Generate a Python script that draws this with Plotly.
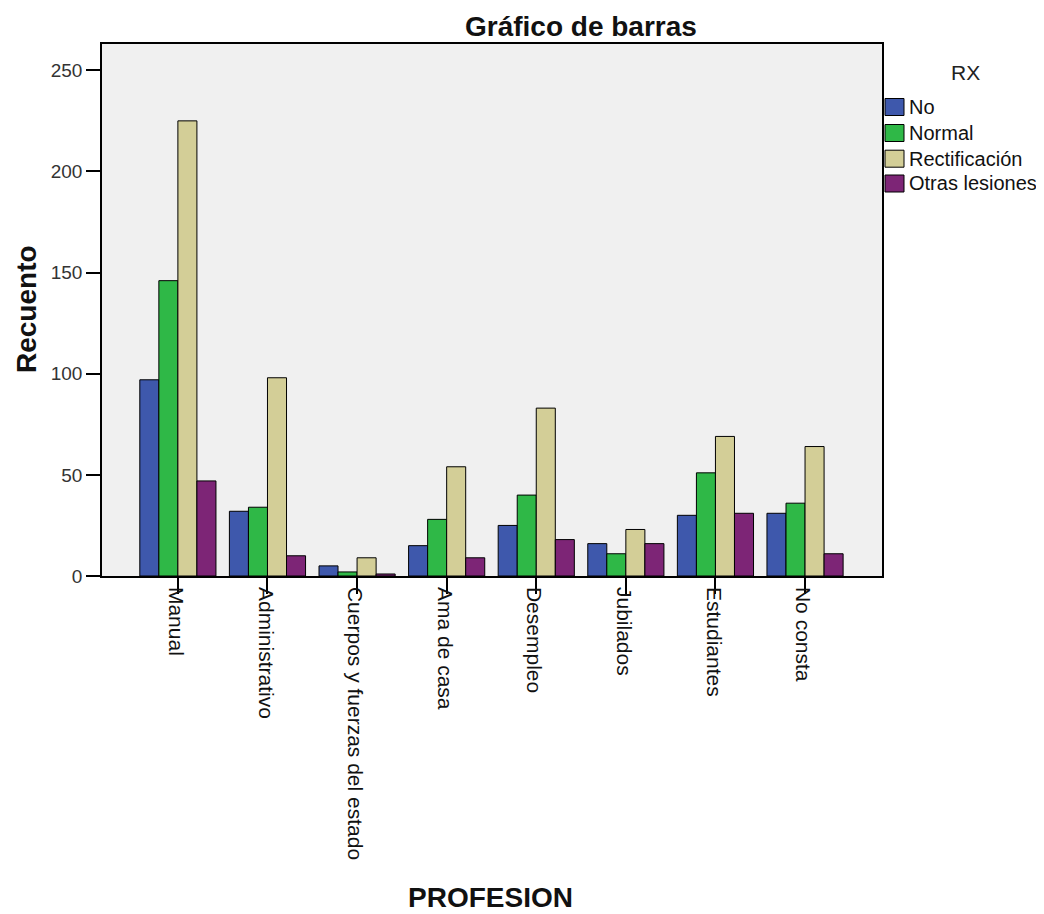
import plotly.graph_objects as go

categories = ["Manual", "Administrativo", "Cuerpos y fuerzas del estado", "Ama de casa",
              "Desempleo", "Jubilados", "Estudiantes", "No consta"]
series_names = ["No", "Normal", "Rectificación", "Otras lesiones"]
no_vals = [97, 32, 5, 15, 25, 16, 30, 31]
normal_vals = [146, 34, 2, 28, 40, 11, 51, 36]
rectif_vals = [225, 98, 9, 54, 83, 23, 69, 64]
otras_vals = [47, 10, 1, 9, 18, 16, 31, 11]
colors = ["#3e58ac", "#2fb847", "#d3ce97", "#7d2576"]
yticks = [0, 50, 100, 150, 200, 250]

W, H = 1036, 906
L, R, T, B = 94, 162, 36, 338
PW, PH = W - L - R, H - T - B


def px(fx):
    return (fx - L) / PW


def py(fy):
    return (T + PH - fy) / PH


FONT = "Liberation Sans, Arial, sans-serif"

fig = go.Figure()
for name, vals, col in zip(series_names, [no_vals, normal_vals, rectif_vals, otras_vals], colors):
    fig.add_trace(go.Bar(x=categories, y=vals, name=name,
                         marker=dict(color=col, line=dict(color="#000000", width=1))))

annotations = [
    dict(text="<b>Gráfico de barras</b>", x=px(573), y=py(0.5), xref="paper", yref="paper",
         xanchor="center", yanchor="top", showarrow=False,
         font=dict(size=28, color="#111")),
    dict(text="<b>Recuento</b>", x=px(0.5), y=py(301), xref="paper", yref="paper",
         xanchor="left", yanchor="middle", textangle=-90, showarrow=False,
         font=dict(size=28, color="#111")),
    dict(text="<b>PROFESION</b>", x=px(482), y=py(889), xref="paper", yref="paper",
         xanchor="center", yanchor="middle", showarrow=False,
         font=dict(size=28, color="#111")),
    dict(text="RX", x=px(957), y=py(64), xref="paper", yref="paper",
         xanchor="center", yanchor="middle", showarrow=False,
         font=dict(size=21, color="#222")),
]
shapes = []
row_centers = [99, 125, 150.7, 175.5]
for name, col, rc in zip(series_names, colors, row_centers):
    shapes.append(dict(type="rect", xref="paper", yref="paper",
                       x0=px(877), x1=px(896), y0=py(rc + 8.5), y1=py(rc - 8.5),
                       fillcolor=col, line=dict(color="#000", width=1)))
    annotations.append(dict(text=name, x=px(899), y=py(rc), xref="paper", yref="paper",
                            xanchor="left", yanchor="middle", showarrow=False,
                            font=dict(size=20, color="#111")))

fig.update_layout(
    width=W, height=H,
    paper_bgcolor="white", plot_bgcolor="#f0f0f0",
    font=dict(family=FONT, size=20, color="#222"),
    margin=dict(l=L, r=R, t=T, b=B),
    barmode="group", bargap=0.15, bargroupgap=0,
    showlegend=False,
    annotations=annotations, shapes=shapes,
)

fig.update_xaxes(
    type="category", range=[-0.847, 7.859], tickangle=90,
    showline=True, linecolor="#000", linewidth=1.5, mirror=True,
    ticks="outside", ticklen=16, tickcolor="#000", tickwidth=1.5,
    ticklabelstandoff=-11, ticklabelshift=-2,
    tickfont=dict(size=21, color="#111"), showgrid=False,
)
fig.update_yaxes(
    range=[0, 263], tickvals=yticks,
    showline=True, linecolor="#000", linewidth=1.5, mirror=True,
    ticks="outside", ticklen=14, tickcolor="#000", tickwidth=1.5,
    tickfont=dict(size=19, color="#333"), showgrid=False, zeroline=False,
)

fig.write_html("out.html")
